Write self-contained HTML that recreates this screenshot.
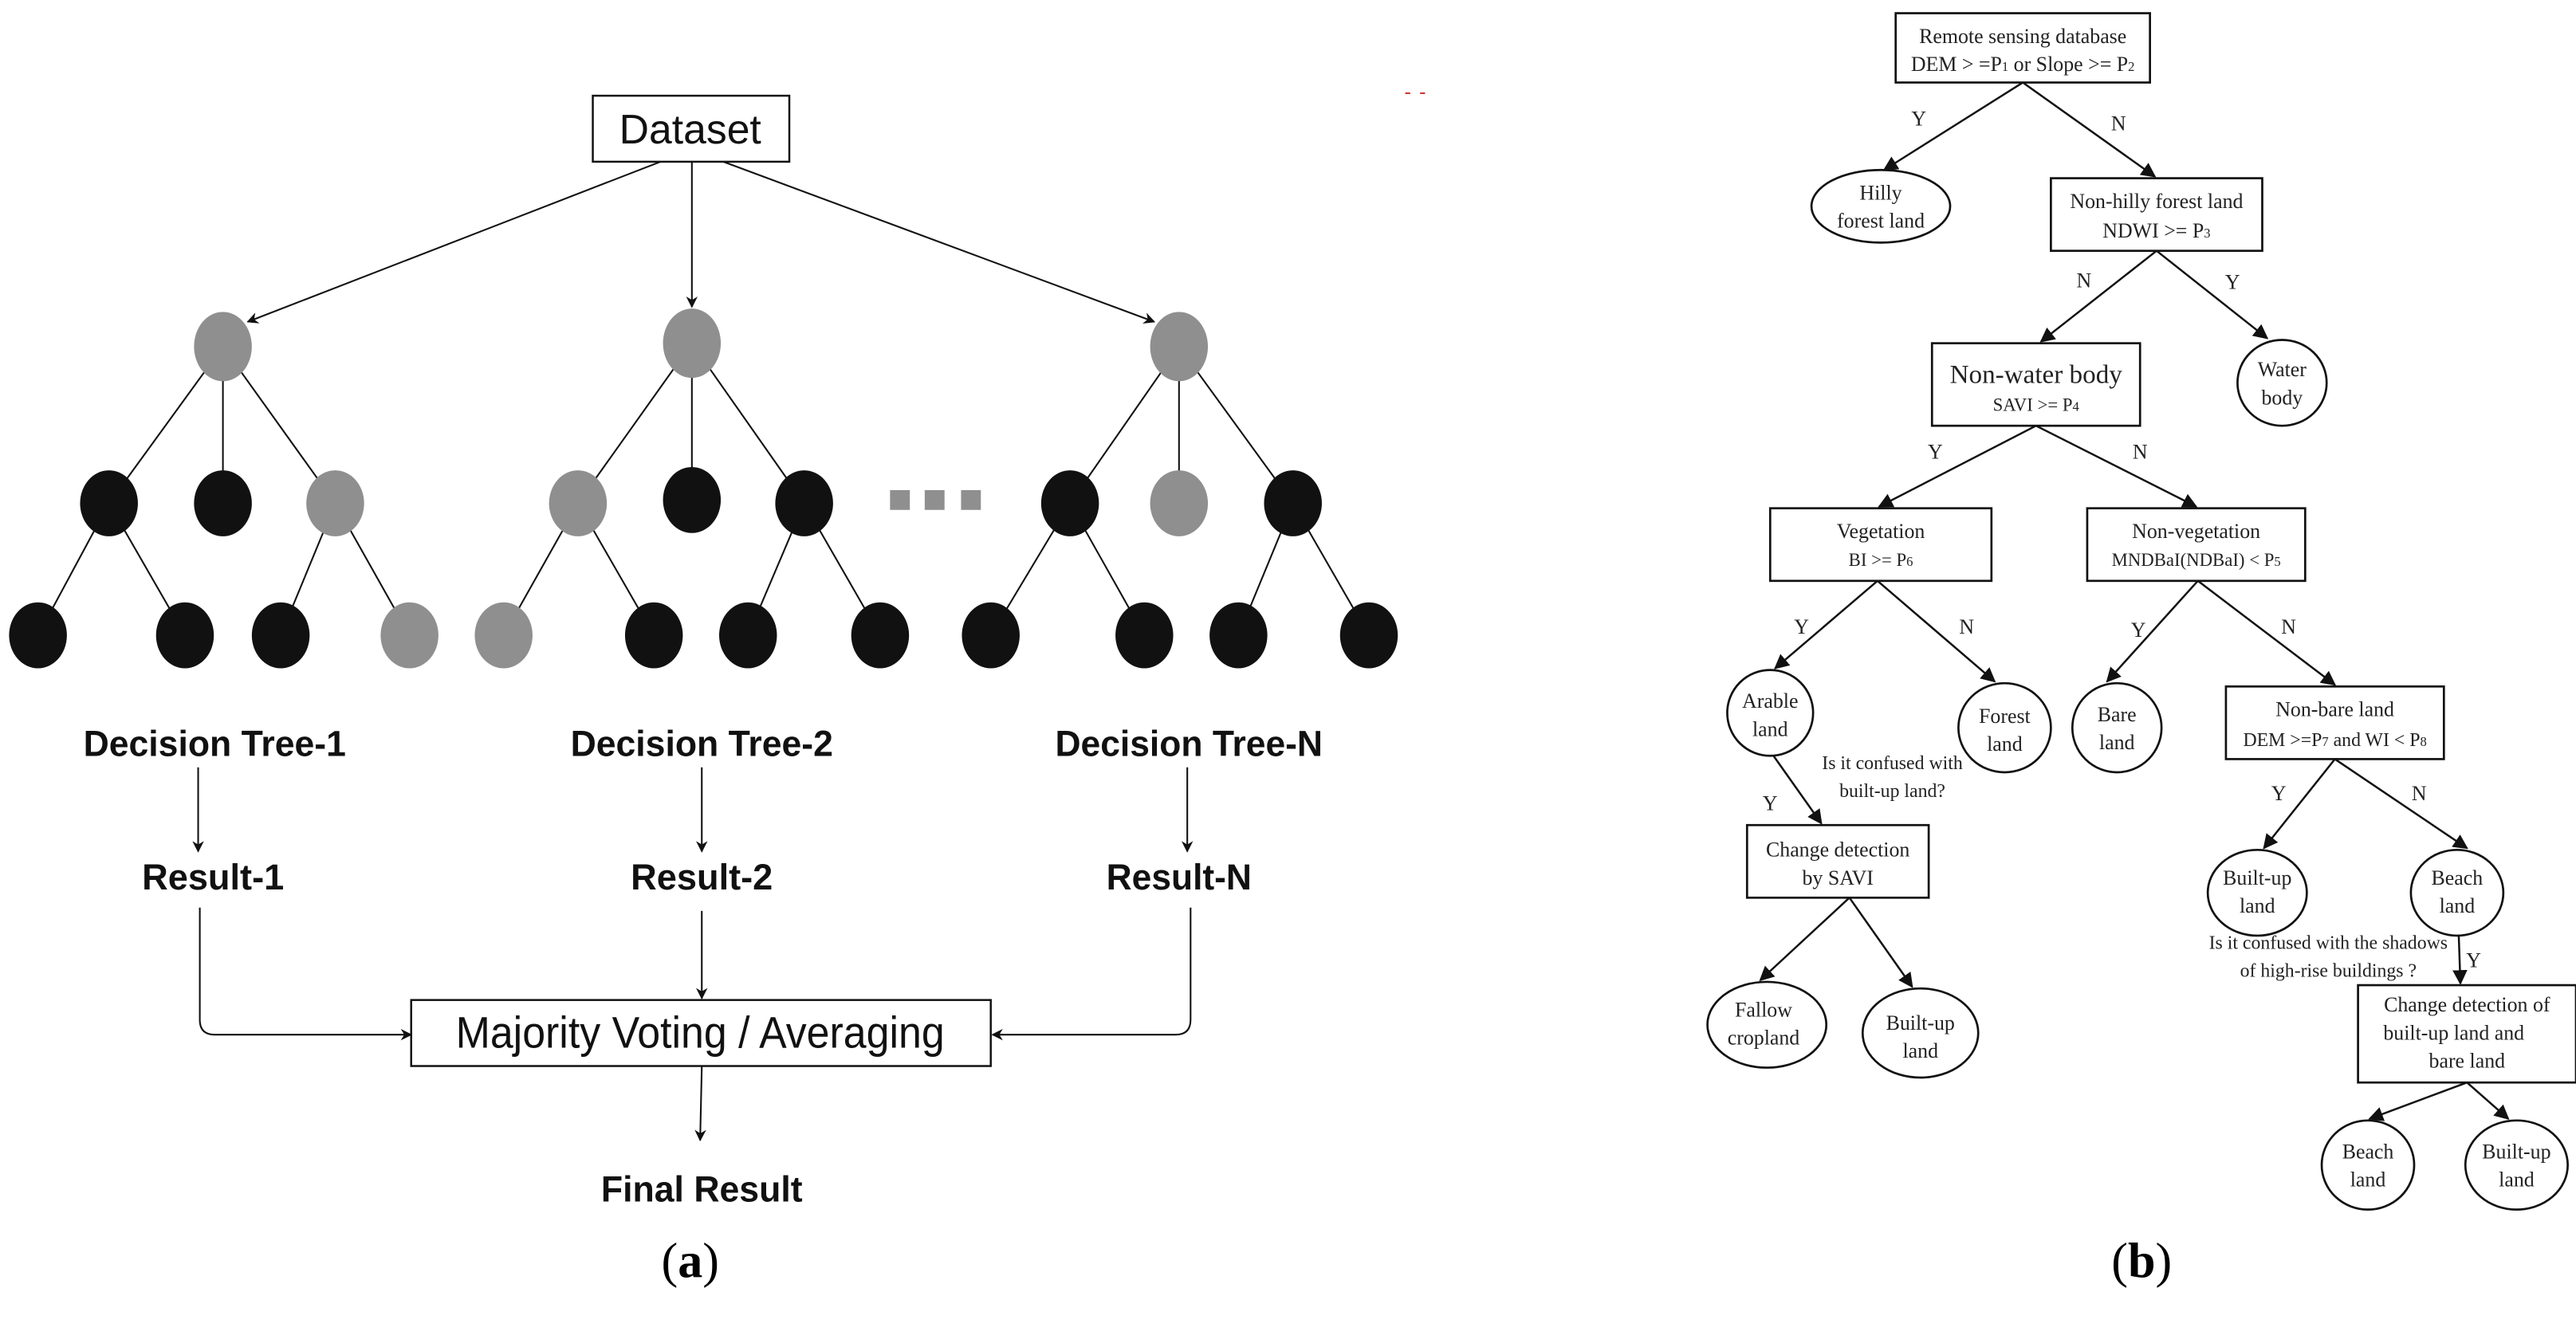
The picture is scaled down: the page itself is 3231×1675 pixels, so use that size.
<!DOCTYPE html>
<html><head><meta charset="utf-8"><style>
html,body{margin:0;padding:0;background:#fff;}
svg{display:block;}
.l{font-family:"Liberation Sans",sans-serif;}
.s{font-family:"Liberation Serif",serif;fill:#222;}
</style></head><body>
<svg width="3231" height="1675" viewBox="0 0 1560 809" preserveAspectRatio="none" xmlns="http://www.w3.org/2000/svg">
<defs>
<marker id="a" viewBox="0 0 10 10" refX="9" refY="5" markerWidth="7" markerHeight="7" orient="auto" markerUnits="userSpaceOnUse">
<path d="M0,0 L10,5 L0,10 L3,5 z" fill="#111"/></marker>
<marker id="b" viewBox="0 0 10 10" refX="9" refY="5" markerWidth="9" markerHeight="9" orient="auto" markerUnits="userSpaceOnUse">
<path d="M0,0 L10,5 L0,10 z" fill="#111"/></marker>
</defs>
<!-- LEFT (a) -->
<g stroke="#111" stroke-width="1" fill="none">
<rect x="359" y="58" width="119" height="40" stroke-width="1.2"/>
<line x1="400" y1="98" x2="150" y2="195" marker-end="url(#a)"/>
<line x1="419" y1="98" x2="419" y2="186" marker-end="url(#a)"/>
<line x1="438" y1="98" x2="699" y2="195" marker-end="url(#a)"/>
<!-- tree 1 -->
<line x1="135" y1="210" x2="66" y2="305"/><line x1="135" y1="210" x2="135" y2="305"/><line x1="135" y1="210" x2="203" y2="305"/>
<line x1="66" y1="305" x2="23" y2="385"/><line x1="66" y1="305" x2="112" y2="385"/>
<line x1="203" y1="305" x2="170" y2="385"/><line x1="203" y1="305" x2="248" y2="385"/>
<!-- tree 2 -->
<line x1="419" y1="208" x2="350" y2="305"/><line x1="419" y1="208" x2="419" y2="305"/><line x1="419" y1="208" x2="487" y2="305"/>
<line x1="350" y1="305" x2="305" y2="385"/><line x1="350" y1="305" x2="396" y2="385"/>
<line x1="487" y1="305" x2="453" y2="385"/><line x1="487" y1="305" x2="533" y2="385"/>
<!-- tree N -->
<line x1="714" y1="210" x2="648" y2="305"/><line x1="714" y1="210" x2="714" y2="305"/><line x1="714" y1="210" x2="783" y2="305"/>
<line x1="648" y1="305" x2="600" y2="385"/><line x1="648" y1="305" x2="693" y2="385"/>
<line x1="783" y1="305" x2="750" y2="385"/><line x1="783" y1="305" x2="829" y2="385"/>
<!-- arrows lower -->
<line x1="120" y1="465" x2="120" y2="516" marker-end="url(#a)"/>
<line x1="425" y1="465" x2="425" y2="516" marker-end="url(#a)"/>
<line x1="719" y1="465" x2="719" y2="516" marker-end="url(#a)"/>
<path d="M121,550 V618 Q121,627 130,627 H249" marker-end="url(#a)"/>
<path d="M721,550 V618 Q721,627 712,627 H601" marker-end="url(#a)"/>
<line x1="425" y1="552" x2="425" y2="605" marker-end="url(#a)"/>
<rect x="249" y="606" width="351" height="40" stroke-width="1.2"/>
<line x1="425" y1="646" x2="424" y2="691" marker-end="url(#a)"/>
</g>
<g>
<ellipse cx="135" cy="210" rx="17.5" ry="21" fill="#8f8f8f"/>
<ellipse cx="66" cy="305" rx="17.5" ry="20" fill="#111"/>
<ellipse cx="135" cy="305" rx="17.5" ry="20" fill="#111"/>
<ellipse cx="203" cy="305" rx="17.5" ry="20" fill="#8f8f8f"/>
<ellipse cx="23" cy="385" rx="17.5" ry="20" fill="#111"/>
<ellipse cx="112" cy="385" rx="17.5" ry="20" fill="#111"/>
<ellipse cx="170" cy="385" rx="17.5" ry="20" fill="#111"/>
<ellipse cx="248" cy="385" rx="17.5" ry="20" fill="#8f8f8f"/>
<ellipse cx="419" cy="208" rx="17.5" ry="21" fill="#8f8f8f"/>
<ellipse cx="350" cy="305" rx="17.5" ry="20" fill="#8f8f8f"/>
<ellipse cx="419" cy="303" rx="17.5" ry="20" fill="#111"/>
<ellipse cx="487" cy="305" rx="17.5" ry="20" fill="#111"/>
<ellipse cx="305" cy="385" rx="17.5" ry="20" fill="#8f8f8f"/>
<ellipse cx="396" cy="385" rx="17.5" ry="20" fill="#111"/>
<ellipse cx="453" cy="385" rx="17.5" ry="20" fill="#111"/>
<ellipse cx="533" cy="385" rx="17.5" ry="20" fill="#111"/>
<ellipse cx="714" cy="210" rx="17.5" ry="21" fill="#8f8f8f"/>
<ellipse cx="648" cy="305" rx="17.5" ry="20" fill="#111"/>
<ellipse cx="714" cy="305" rx="17.5" ry="20" fill="#8f8f8f"/>
<ellipse cx="783" cy="305" rx="17.5" ry="20" fill="#111"/>
<ellipse cx="600" cy="385" rx="17.5" ry="20" fill="#111"/>
<ellipse cx="693" cy="385" rx="17.5" ry="20" fill="#111"/>
<ellipse cx="750" cy="385" rx="17.5" ry="20" fill="#111"/>
<ellipse cx="829" cy="385" rx="17.5" ry="20" fill="#111"/>
<rect x="539" y="297" width="12" height="12" fill="#8f8f8f"/>
<rect x="560" y="297" width="12" height="12" fill="#8f8f8f"/>
<rect x="582" y="297" width="12" height="12" fill="#8f8f8f"/>
<rect x="851" y="56" width="3" height="1" fill="#c33"/><rect x="860" y="56" width="3" height="1" fill="#c33"/>
</g>
<g class="l" fill="#111">
<text x="418" y="87" font-size="25" text-anchor="middle" textLength="86" lengthAdjust="spacingAndGlyphs">Dataset</text>
<text x="130" y="458" font-size="22" font-weight="bold" text-anchor="middle" textLength="159" lengthAdjust="spacingAndGlyphs">Decision Tree-1</text>
<text x="425" y="458" font-size="22" font-weight="bold" text-anchor="middle" textLength="159" lengthAdjust="spacingAndGlyphs">Decision Tree-2</text>
<text x="720" y="458" font-size="22" font-weight="bold" text-anchor="middle" textLength="162" lengthAdjust="spacingAndGlyphs">Decision Tree-N</text>
<text x="129" y="539" font-size="22" font-weight="bold" text-anchor="middle" textLength="86" lengthAdjust="spacingAndGlyphs">Result-1</text>
<text x="425" y="539" font-size="22" font-weight="bold" text-anchor="middle" textLength="86" lengthAdjust="spacingAndGlyphs">Result-2</text>
<text x="714" y="539" font-size="22" font-weight="bold" text-anchor="middle" textLength="88" lengthAdjust="spacingAndGlyphs">Result-N</text>
<text x="424" y="635" font-size="27" text-anchor="middle" textLength="296" lengthAdjust="spacingAndGlyphs">Majority Voting / Averaging</text>
<text x="425" y="728" font-size="22" font-weight="bold" text-anchor="middle" textLength="122" lengthAdjust="spacingAndGlyphs">Final Result</text>
</g>
<text x="418" y="774" font-family="Liberation Serif,serif" font-size="30" text-anchor="middle"><tspan>(</tspan><tspan font-weight="bold">a</tspan><tspan>)</tspan></text>
<!-- RIGHT (b) -->
<g stroke="#111" stroke-width="1.3" fill="#fff">
<rect x="1148" y="8" width="154" height="42"/>
<rect x="1242" y="108" width="128" height="44"/>
<rect x="1170" y="208" width="126" height="50"/>
<rect x="1072" y="308" width="134" height="44"/>
<rect x="1264" y="308" width="132" height="44"/>
<rect x="1348" y="416" width="132" height="44"/>
<rect x="1058" y="500" width="110" height="44"/>
<rect x="1428" y="597" width="132" height="59"/>
<ellipse cx="1139" cy="125" rx="42" ry="22"/>
<ellipse cx="1382" cy="232" rx="27" ry="26"/>
<ellipse cx="1072" cy="432" rx="26" ry="26"/>
<ellipse cx="1214" cy="441" rx="28" ry="27"/>
<ellipse cx="1282" cy="441" rx="27" ry="27"/>
<ellipse cx="1367" cy="541" rx="30" ry="26"/>
<ellipse cx="1488" cy="541" rx="28" ry="26"/>
<ellipse cx="1070" cy="621" rx="36" ry="26"/>
<ellipse cx="1163" cy="626" rx="35" ry="27"/>
<ellipse cx="1434" cy="706" rx="28" ry="27"/>
<ellipse cx="1524" cy="706" rx="31" ry="27"/>
</g>
<g stroke="#111" stroke-width="1.2" fill="none">
<line x1="1225" y1="50" x2="1141" y2="103" marker-end="url(#b)"/>
<line x1="1225" y1="50" x2="1305" y2="107" marker-end="url(#b)"/>
<line x1="1306" y1="152" x2="1236" y2="207" marker-end="url(#b)"/>
<line x1="1306" y1="152" x2="1373" y2="205" marker-end="url(#b)"/>
<line x1="1233" y1="258" x2="1138" y2="307" marker-end="url(#b)"/>
<line x1="1233" y1="258" x2="1330" y2="307" marker-end="url(#b)"/>
<line x1="1137" y1="352" x2="1075" y2="405" marker-end="url(#b)"/>
<line x1="1137" y1="352" x2="1208" y2="413" marker-end="url(#b)"/>
<line x1="1331" y1="352" x2="1276" y2="413" marker-end="url(#b)"/>
<line x1="1331" y1="352" x2="1414" y2="415" marker-end="url(#b)"/>
<line x1="1074" y1="458" x2="1103" y2="499" marker-end="url(#b)"/>
<line x1="1120" y1="544" x2="1066" y2="594" marker-end="url(#b)"/>
<line x1="1120" y1="544" x2="1158" y2="598" marker-end="url(#b)"/>
<line x1="1414" y1="460" x2="1371" y2="514" marker-end="url(#b)"/>
<line x1="1414" y1="460" x2="1494" y2="514" marker-end="url(#b)"/>
<line x1="1489" y1="567" x2="1490" y2="596" marker-end="url(#b)"/>
<line x1="1494" y1="656" x2="1435" y2="678" marker-end="url(#b)"/>
<line x1="1494" y1="656" x2="1519" y2="678" marker-end="url(#b)"/>
</g>
<g class="s" font-size="12.5" text-anchor="middle">
<text x="1225" y="26">Remote sensing database</text>
<text x="1225" y="43">DEM &gt; =P<tspan font-size="8">1</tspan> or Slope &gt;= P<tspan font-size="8">2</tspan></text>
<text x="1139" y="121">Hilly</text><text x="1139" y="138">forest land</text>
<text x="1306" y="126">Non-hilly forest land</text>
<text x="1306" y="144">NDWI &gt;= P<tspan font-size="8">3</tspan></text>
<text x="1233" y="232" font-size="16">Non-water body</text>
<text x="1233" y="249" font-size="11">SAVI &gt;= P<tspan font-size="8">4</tspan></text>
<text x="1382" y="228">Water</text><text x="1382" y="245">body</text>
<text x="1139" y="326">Vegetation</text>
<text x="1139" y="343" font-size="11">BI &gt;= P<tspan font-size="8">6</tspan></text>
<text x="1330" y="326">Non-vegetation</text>
<text x="1330" y="343" font-size="11">MNDBaI(NDBaI) &lt; P<tspan font-size="8">5</tspan></text>
<text x="1072" y="429">Arable</text><text x="1072" y="446">land</text>
<text x="1214" y="438">Forest</text><text x="1214" y="455">land</text>
<text x="1282" y="437">Bare</text><text x="1282" y="454">land</text>
<text x="1414" y="434">Non-bare land</text>
<text x="1414" y="452" font-size="11.5">DEM &gt;=P<tspan font-size="8">7</tspan> and WI &lt; P<tspan font-size="8">8</tspan></text>
<text x="1146" y="466" font-size="11.5">Is it confused with</text>
<text x="1146" y="483" font-size="11.5">built-up land?</text>
<text x="1113" y="519">Change detection</text><text x="1113" y="536">by SAVI</text>
<text x="1367" y="536">Built-up</text><text x="1367" y="553">land</text>
<text x="1488" y="536">Beach</text><text x="1488" y="553">land</text>
<text x="1410" y="575" font-size="11.5">Is it confused with the shadows</text>
<text x="1410" y="592" font-size="11.5">of high-rise buildings ?</text>
<text x="1494" y="613">Change detection of</text>
<text x="1486" y="630">built-up land and</text>
<text x="1494" y="647">bare land</text>
<text x="1068" y="616">Fallow</text><text x="1068" y="633">cropland</text>
<text x="1163" y="624">Built-up</text><text x="1163" y="641">land</text>
<text x="1434" y="702">Beach</text><text x="1434" y="719">land</text>
<text x="1524" y="702">Built-up</text><text x="1524" y="719">land</text>
<text x="1162" y="76">Y</text><text x="1283" y="79">N</text>
<text x="1262" y="174">N</text><text x="1352" y="175">Y</text>
<text x="1172" y="278">Y</text><text x="1296" y="278">N</text>
<text x="1091" y="384">Y</text><text x="1191" y="384">N</text>
<text x="1295" y="386">Y</text><text x="1386" y="384">N</text>
<text x="1072" y="491">Y</text>
<text x="1380" y="485">Y</text><text x="1465" y="485">N</text>
<text x="1498" y="586">Y</text>
</g>
<text x="1297" y="774" font-family="Liberation Serif,serif" font-size="30" text-anchor="middle"><tspan>(</tspan><tspan font-weight="bold">b</tspan><tspan>)</tspan></text>
</svg>
</body></html>
